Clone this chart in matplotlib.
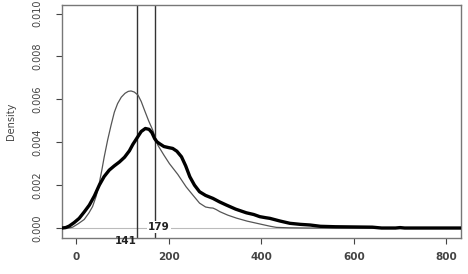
import numpy as np
import matplotlib
matplotlib.use("Agg")
import matplotlib.pyplot as plt

# thin curve (density of first sample)
thin_x = [-30, -15, -7, 5, 18, 28, 36, 44, 50.5, 56, 61, 68.5, 76, 83, 90, 98, 106,
          113, 119, 126, 134, 141, 148, 157, 166, 177, 190, 202, 220, 238, 252,
          267, 280, 290, 296, 303, 311, 328, 347, 370, 397, 420, 433, 460, 500, 560, 832]
thin_y = [0.0, 0.0, 0.00004, 0.0002, 0.0004, 0.0007, 0.001, 0.0015, 0.0021, 0.0027,
          0.0033, 0.0041, 0.0048, 0.0054, 0.0058, 0.0061, 0.00628,
          0.00637, 0.00639, 0.00634, 0.0062, 0.0059, 0.0055, 0.0050, 0.00456, 0.00386,
          0.0034, 0.0030, 0.0025, 0.00192, 0.00155,
          0.00116, 0.00098, 0.00094, 0.00093, 0.00086, 0.00076, 0.0006, 0.00046, 0.00032,
          0.00019, 0.00008, 0.00003, 0.00001, 0.0, 0.0, 0.0]

# thick curve (density of second sample)
thick_x = [-30, -22, -14.5, -4, 7, 18, 29, 40, 50.5, 61, 72, 83, 94, 105, 115.5, 123,
           132, 141, 150, 158, 164, 170, 175, 180, 190, 200, 209, 218, 228, 237, 246,
           256, 267, 280, 296, 310, 325, 345, 368, 384, 397, 410, 419, 440, 462, 485,
           506, 528, 560, 600, 640, 660, 690, 700, 710, 750, 832]
thick_y = [0.0, 0.00002, 0.00009, 0.00025, 0.00045, 0.00075, 0.00107, 0.0015, 0.0020,
           0.0024, 0.0027, 0.0029, 0.00308, 0.0033, 0.0036, 0.0039,
           0.0042, 0.0045, 0.00464, 0.0046, 0.00445, 0.00417, 0.00402, 0.00394, 0.0038,
           0.00375, 0.00371, 0.00358, 0.00332, 0.0029, 0.00239,
           0.002, 0.00169, 0.00152, 0.00138, 0.00122, 0.00107, 0.00088, 0.00071, 0.00063,
           0.00053, 0.00048, 0.00045, 0.00033, 0.00022, 0.00017,
           0.00014, 0.00008, 0.00006, 0.00005, 0.00004, 0.0, 0.0, 0.00002, 0.0, 0.0, 0.0]

vlines = [131, 170]
vlabels = ["141", "179"]
xticks = [0, 200, 400, 600, 800]
yticks = [0.000, 0.002, 0.004, 0.006, 0.008, 0.010]

fig = plt.figure(figsize=(4.68, 2.74), dpi=100)
ax = fig.add_axes([0.1325, 0.131, 0.853, 0.851])

ax.axhline(0, color="#bbbbbb", lw=0.8, zorder=1)
ax.plot(thin_x, thin_y, color="#555555", lw=0.9, zorder=3)
ax.plot(thick_x, thick_y, color="black", lw=2.4, zorder=4)
for v in vlines:
    ax.axvline(v, color="#333333", lw=1.0, zorder=2)

ax.text(179, 0.00005, vlabels[1], ha="center", va="center", fontsize=7.5,
        fontweight="bold", color="#222222",
        bbox=dict(facecolor="white", edgecolor="none", pad=1.0), zorder=2)
ax.text(vlines[0] + 1, -0.00062, vlabels[0], ha="right", va="center", fontsize=7.5,
        fontweight="bold", color="#222222", clip_on=False, zorder=5)

ax.set_xlim(-30, 832)
ax.set_ylim(-0.00047, 0.0104)
ax.set_xticks(xticks)
ax.set_xticklabels([str(t) for t in xticks], fontsize=7.5, color="#444444",
                   fontweight="bold")
ax.set_yticks(yticks)
ax.set_yticklabels(["%.3f" % t for t in yticks], rotation=90, va="center",
                   fontsize=7, color="#444444", family=["Liberation Sans Narrow", "DejaVu Sans"])
ax.tick_params(axis="both", length=4, width=0.8, color="#444444")
ax.tick_params(axis="x", pad=6)
ax.tick_params(axis="y", pad=10)
ax.set_ylabel("Density", fontsize=7, color="#444444",
              family=["Liberation Sans Narrow", "DejaVu Sans"], labelpad=12)
for s in ax.spines.values():
    s.set_color("#777777")
    s.set_linewidth(1.0)

fig.savefig("out.png", dpi=100)
